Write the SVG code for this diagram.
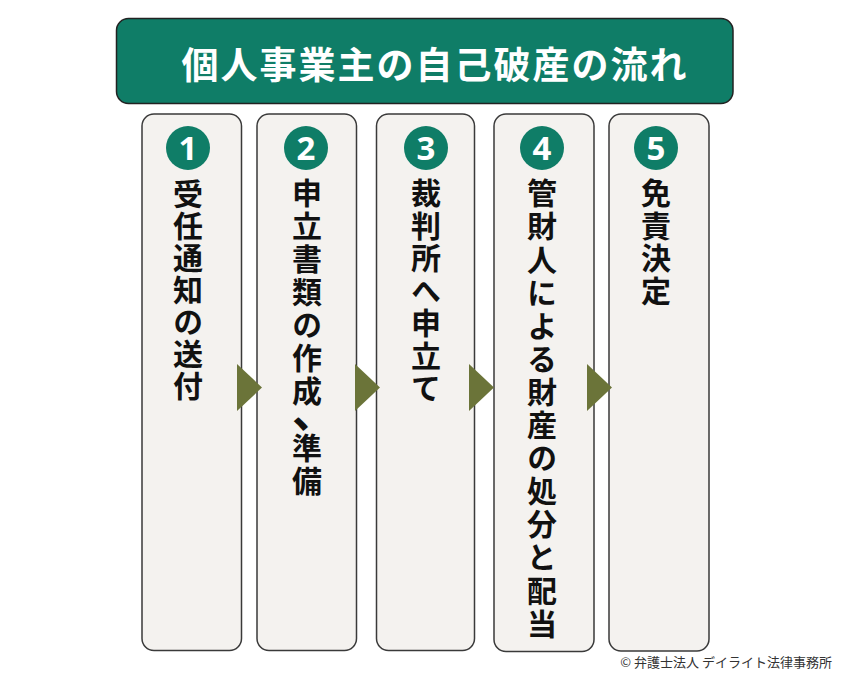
<svg xmlns="http://www.w3.org/2000/svg" width="850" height="674" viewBox="0 0 850 674">
<style>
.card{fill:#f4f2ef;stroke:#3a3a3a;stroke-width:1.5}
.circ{fill:#0f7d67}
.num{fill:#fff;font-family:"Noto Sans","Open Sans",sans-serif;font-weight:700;font-size:33px;text-anchor:middle}
.vt{font-family:"Noto Sans CJK JP",sans-serif;font-weight:700;font-size:30px;fill:#111;writing-mode:vertical-rl;letter-spacing:2.5px}
.arr{fill:#6b7439}
</style>
<rect width="850" height="674" fill="#ffffff"/>
<g id="header">
<rect x="116.5" y="18.5" width="616.5" height="85" rx="12" fill="#0f7d67" stroke="#222" stroke-width="1.5"/>
<text x="435" y="78.5" font-family="'Noto Sans CJK JP',sans-serif" font-weight="700" font-size="37" letter-spacing="2" fill="#fff" text-anchor="middle">個人事業主の自己破産の流れ</text>
</g>
<g id="step1">
<rect class="card" x="142" y="114" width="99.5" height="536.5" rx="12"/>
<circle class="circ" cx="188" cy="148" r="22"/>
<text class="num" x="188" y="160">1</text>
<text class="vt" x="188" y="179" style="letter-spacing:2px">受任通知の送付</text>
</g>
<g id="step2">
<rect class="card" x="257" y="114" width="99.5" height="536.5" rx="12"/>
<circle class="circ" cx="306" cy="148" r="22"/>
<text class="num" x="306" y="160">2</text>
<text class="vt" x="307" y="178" style="letter-spacing:3px">申立書類の作成</text>
<text x="292" y="427.5" font-family="'Noto Sans CJK JP',sans-serif" font-weight="700" font-size="44" fill="#111">、</text>
<text class="vt" x="307" y="433" style="letter-spacing:3px">準備</text>
</g>
<g id="step3">
<rect class="card" x="376.5" y="114" width="98" height="536.5" rx="12"/>
<circle class="circ" cx="426" cy="148" r="22"/>
<text class="num" x="426" y="160">3</text>
<text class="vt" x="426" y="178">裁判所へ申立て</text>
</g>
<g id="step4">
<rect class="card" x="494" y="114" width="100" height="537.5" rx="12"/>
<circle class="circ" cx="542" cy="148" r="22"/>
<text class="num" x="542" y="160">4</text>
<text class="vt" x="542" y="178" style="letter-spacing:3.1px">管財人による財産の処分と配当</text>
</g>
<g id="step5">
<rect class="card" x="609" y="114" width="100" height="537" rx="12"/>
<circle class="circ" cx="656" cy="148" r="22"/>
<text class="num" x="656" y="160">5</text>
<text class="vt" x="656" y="178">免責決定</text>
</g>
<g id="connectors">
<polygon class="arr" points="237,364 262,387.5 237,411"/>
<polygon class="arr" points="355,364 380,387.5 355,411"/>
<polygon class="arr" points="469,364 494,387.5 469,411"/>
<polygon class="arr" points="587,364 612,387.5 587,411"/>
</g>
<text x="832" y="667" font-family="'Noto Sans CJK JP',sans-serif" font-size="13" fill="#333" text-anchor="end">© 弁護士法人 デイライト法律事務所</text>
</svg>
